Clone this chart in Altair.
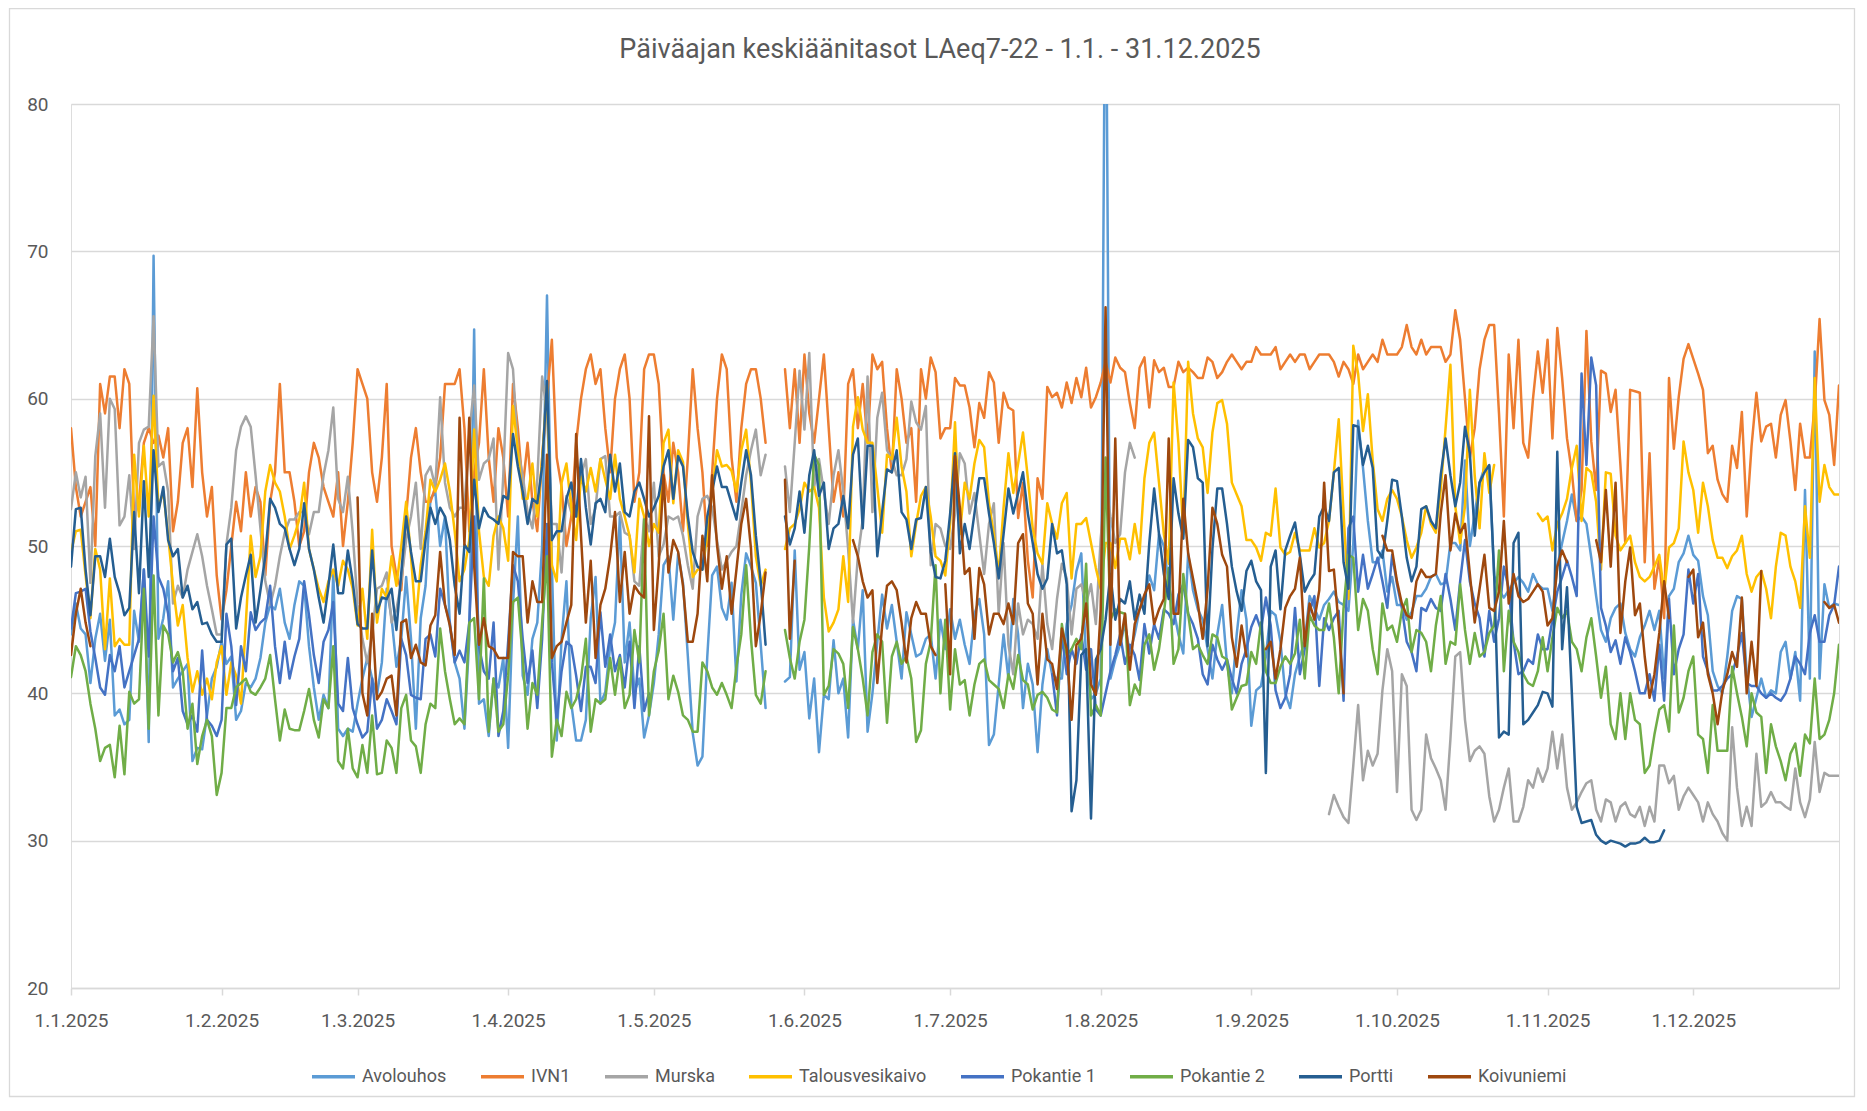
import datetime as dt
import altair as alt
import pandas as pd

N = None
TITLE = "Päiväajan keskiäänitasot LAeq7-22 - 1.1. - 31.12.2025"
SERIES = ["Avolouhos", "IVN1", "Murska", "Talousvesikaivo", "Pokantie 1", "Pokantie 2", "Portti", "Koivuniemi"]
COLORS = ["#5B9BD5", "#ED7D31", "#A5A5A5", "#FFC000", "#4472C4", "#70AD47", "#255E91", "#9E480E"]
Y_TICKS = [20, 30, 40, 50, 60, 70, 80]
MONTHS = list(range(1, 13))

AVOLOUHOS = (
    [44,46.1,44.4,44,40.7,43.7,45.4,42.2,45,38.5,38.9,37.9,38.2,45.6,43.5,48.4,36.7,69.7,43.7,45.1,47.6,40.4,41,41.5,42,35.4,36.3,36.2,38.5,41,41.8]
    + [43.5,42,42.5,38.2,38.8,40.7,40.4,41,42.4,44.8,46,45.7,47.1,44.8,43.7,46,47.6,47.3,43.2,40.4,38.2,39.9,39,48.2,37.6,37.1,37.6,37.4]
    + [39.3,41,42.4,41,39.9,42.1,47.1,45.1,41.8,43.7,47.9,43.7,37.6,45.1,47.3,53.2,53.7,50,52,44.6,42.1,41,37.6,43.7,64.7,39.3,39.6,37.1,41,40.4,42.4]
    + [36.3,46,52,41.2,39.9,43.7,44.8,50,67,48.7,36.8,43.7,47.6,39.3,36.8,36.8,38.2,45.1,47.9,39.3,40.1,43.2,44.8,52,42.1,44.8,40.1,41,37,38.5]
    + [40.7,44,48.7,49.3,45,49.5,47.5,42.5,37.3,35.1,35.7,42.5,48,48.6,45.8,45,47.5,40.8,46.7,49.5,48.6,47.5,43.3,39,N,N,N,40.8,41.1,49.7,41.6]
    + [42.8,38.3,41,36,39.9,39.6,43.6,40,41,37,45,43,47,37.4,40,43.5,46.7,44.4,46,43.5,41,45.5,44,42.5,42.7,43.7,44,41,45,43]
    + [45.7,43.7,45,43.3,42,45.4,46.4,44,36.5,37.2,40.6,44,41,46.4,44,39,42,40.6,36,40.6,43,41.3,41,41,44.7,46,48.3,49.5,42.3,39.6,40]
    + [41,95,41,42.3,43.3,44.7,42.7,44,45.7,46.4,48,47,50.8,50,47.4,45.7,44,42.7,49.5,47,45.7,45,43,41,44,46,42,40,44,47,45]
    + [37.8,40.2,40.5,42.5,45.6,45.3,43.5,40,39,41.3,42.5,43.5,46.6,45.8,45,46,46.4,46.9,46.2,46,45.6,50.2,58.5,55.3,51.7,48.9,48.9,49.7,46.9,47.9]
    + [46,46,45,45.5,46.6,46.6,47.1,47.9,48.1,47.4,47.5,50.2,50.2,49.7,55.8,50,52.2,54.3,55.3,55.4,48,47,46.5,47,47.5,47.9,47.5,46.9,48.1,47.4,47.1]
    + [47.1,45.6,48.6,50.2,51.7,53.5,51.7,52,51.5,49.2,46.6,44.3,43.5,45.1,45.8,46.1,44.1,43,42.5,43.8,44.6,45.6,44.3,45.6,41,46.6,47.1,48.9,49.5,50.7]
    + [49.4,49,46.6,45.3,41.5,40.5,40,42.5,45.6,46.6,46.4,41.3,38.4,39.7,41,39.7,40.2,40,42.8,43.5,41,42.8,39.5,53.8,41,63.2,41,47.4,45.8,46.1,46]
)

IVN1 = (
    [58,54,52,53,54,50,61,59,61.5,61.5,58,62,61,52,53,57,58,57,57.5,56,58,51,53,57,58,54,60.7,55,52,54,48]
    + [45,47,50,53,51,55,52,54,53,48,53,55,61,55,55,53,50,51,55,57,56,54,53,52,55,50,53,57]
    + [62,61,60,55,53,56,61,50,48,47,52,56,58,55,53,53,54,56,61,61,61,62,58,51,55,57,62,56,53,58,56]
    + [52,61,58,54,57,53,51,56,60,64,56,54,50,52,57,60,62,63,61,62,58,55,60,62,63,60,53,55,62,63]
    + [63,61,55,53,57,55,51,56,62,58,55,50,55,60,63,62,56,53,58,61,62,62,60,57,N,N,N,62,58,62,57]
    + [63,59,57,60,63,58,53,55,52,61,62,58,61,57,63,62,62.5,58,55,62,60,57,58,53,62,60,62.8,61.8,57.3,58]
    + [58,61.4,60.9,60.9,59.4,56.7,59.7,58.7,61.8,61.1,57,60.4,59.4,59.2,51.9,54.3,49,46.5,54.6,53.2,60.8,60.1,60.4,59.4,61.1,59.7,61.4,60.1,62.1,59.4,60.1]
    + [61.1,62.5,61.1,62.8,62.1,61.8,59.7,58,62.1,62.8,59.4,62.6,61.8,62.1,60.8,60.8,62.5,61.8,62.1,61.8,61.4,61.4,62.8,62.5,61.4,61.8,62.5,63,62.5,62,62.5]
    + [62.5,63.5,63,63,63,63.5,62,62.5,63,62.5,63,63,62,62.5,63,63,63,62.5,61.5,62.5,62,61,63,62,62.5,63,62.5,64,63,63]
    + [63,63.5,65,63.5,63,64,63,63.5,63.5,63.5,62.5,63,66,64,60,56,58,62,64,65,65,59,52,63,58,64,57,56,60,63.2,60.4]
    + [64,57.3,64.8,61.4,57.3,55,51.7,53.8,64.6,57.1,53.8,61.9,61.7,59.1,60.6,55.5,50.2,60.6,60.5,60.4,48.9,56.3,47.1,49.2,45.1,61.4,56.6,60.1,62.7,63.7]
    + [62.7,61.7,60.6,56.3,56.8,54.5,53.5,53,56.8,55.3,59.1,52,56.8,60.4,57.1,58.1,58.3,56,58.9,59.9,57.1,53.8,58.3,56,56,59.6,65.4,59.9,58.9,55.5,60.9]
)

MURSKA = (
    [52.5,55,53.3,54.7,47.5,56.1,59,52.6,60,59.3,51.4,52,54.8,49.8,57,57.9,58.1,65.6,55.4,55.7,53.7,46.1,47.3,46.5,48.4,49.6,50.8,49.3,47.3,45.7,44]
    + [44,50.1,52.6,56.5,58.1,58.8,58.1,54.8,51.2,47.6,46,47.3,49.3,50.9,51.8,51.8,52.3,52.3,50.8,52.3,52.3,54.8,56.5,59.4,53.2,52.3,54.7,50.9]
    + [46,43.7,42.1,44,47.1,47.3,48.2,44.8,45.7,47.6,50.4,52,54.3,49.8,54.8,55.4,54,60.1,54.3,52.6,52,52.6,52.6,57.6,60.9,54.5,55.6,55.9,57.3,48.4,54.8]
    + [63.1,62,56.5,54.8,52.3,51.2,54.5,61.5,59,51.5,51.5,48.2,53.4,52.3,52,54.8,55.9,51.5,52.6,55.9,56.1,52,52,52.3,50.9,50.7,47.6,47.3,52,51]
    + [54.3,49.3,50.1,52,51.8,52,50.7,48.7,47.1,52,53.2,53.4,52.6,50.4,48.4,49,49.6,50,52.3,54.8,56.5,57.9,54.8,56.2,N,N,N,55.4,52.3,57,61.9]
    + [57.9,63.1,54,55.9,53.7,51.5,54.8,56.5,53.7,49.8,44.8,49.3,51.8,61.5,52.3,58.7,60.4,56.5,55.9,54.8,54.8,55.9,59.8,58.4,57.9,59.5,48.7,51.5,51.2,50]
    + [49.8,52.2,56.3,55.6,52.2,53.6,50.8,48.1,51.5,52.9,45.4,50.2,43.3,41.3,46.1,44,45,44.7,43.7,48.8,44.7,43,46.4,48.8,47.8,44,47.1,47.4,46.1,47.4,44.7]
    + [50.5,54.3,52,50.2,50.8,55,57,56] + [N] * 23
    + [N] * 16 + [31.8,33.1,32.3,31.6,31.2,35.1,39.2,34.1,36.1,35.1,35.9,40.2,43,41.5]
    + [33.3,41.3,40.5,32.1,31.4,32.1,37.2,35.6,34.9,34.1,32.1,36.9,42.5,42.8,38.2,35.4,36.1,36.4,35.9,33,31.3,32.1,33.6,34.9,31.3,31.3,32.3,34.1,33.6,34.9,34]
    + [34.9,37.4,34.9,37.2,33.6,32.1,32.6,33.3,33.9,34.1,32.1,31.3,32.8,32.6,31.3,32.3,32.6,31.8,31.6,32.3,31,32.3,31.3,35.1,35.1,33.9,34.4,32.1,33,33.6]
    + [33.1,32.6,31.3,32.6,31.8,31.3,30.5,30,37.7,33.6,31,32.3,31,35.9,32.3,32.6,33.3,32.6,32.6,32.3,32.1,34.9,32.6,31.6,32.8,36.7,33.3,34.6,34.4,34.4,34.4]
)

TALOUSVESIKAIVO = (
    [49.6,51,51.1,48,45.1,49.8,48.4,43,47.8,43.2,43.7,43.3,43.3,56.2,52,56.8,52,60.2,52.6,53.7,50.7,47.3,44.6,46,42.4,40.1,41.5,39.9,41,39.6,42.1]
    + [43.2,39.9,42.1,41.2,39.3,44.8,50.7,47.9,49.3,53.7,55.5,54.3,53.7,52,49.8,50.7,51.8,54.3,49.8,48.4,47.1,46.2,47.6,48.4,47.3,49,48.4,47.1]
    + [44.6,47.1,43.7,51.1,44.8,47.1,46.5,49.3,47.3,50,53,49.3,44.8,48.7,51,54.5,53.7,54.5,55.6,53.7,51,47.6,48.4,50.4,57.9,51,47.9,47.3,50.7,52,51.2]
    + [49,59.5,56.5,53.2,53.2,55.6,52,55.9,60.9,48.7,47.6,54.3,55.6,52.6,50.4,54.7,53.7,55.3,53.7,55.9,54.5,53.2,56.2,53.2,52,50.7,48.2,53.2,52,50]
    + [51.5,50.9,57,57.9,52.9,56.5,55.7,51.5,47.9,48.4,48.4,50.7,53.7,56.5,55.4,55.5,55.1,53.7,56.5,57.9,54.3,49.3,47.3,48.4,N,N,N,49.8,51.2,51.5,52.5]
    + [54.3,53.7,54,52.6,46.5,44.2,44.8,45.7,49.3,46.2,58.1,60.1,57.9,57,57,54,50.9,56.2,55.9,58.7,55.4,53.7,49.3,51.5,53.4,54,52,49.3,49,48]
    + [51.5,58.4,50.8,54.3,53.2,55.6,57.2,56.7,52.9,50.8,48.1,52.6,56.3,53.6,55.6,57.7,54.6,51.2,49.5,48.8,52.9,51.5,50.5,52.9,53.6,47.8,51.5,51.5,51.9,50.2,48.5]
    + [47.1,50.2,50.2,48.5,50.5,50.5,49.1,51.5,49.5,54.6,57,57.7,54.3,50.8,48.8,61.1,57,50.8,62.5,59,57.3,56.7,53.6,57.7,59.7,59.9,58.3,54.3,53.5,52.7,50.4]
    + [50.4,49.9,49,50.9,50.7,53.9,49.9,49.4,49.6,50.9,49.7,49.7,49.7,51.2,49.9,50.2,51.7,55,58.6,52.2,46.4,63.6,61.7,57.8,60.3,55.8,52.5,51.7,53.2,53.8]
    + [53.2,52,50.4,49.2,49.9,50.9,52.7,51.5,50.9,53.8,58,62.3,52.7,50.2,52.7,60.6,54.8,51.2,56.3,53.6,55.5,N,N,N,N,N,N,N,N,52.2,51.7]
    + [52,49.7,51.5,52.2,53.2,55.3,56.8,51.7,55.3,55,53,48.4,55,54.9,50.7,49.7,50.2,50.7,48.9,47.9,47.6,47.9,48.6,49.4,46.9,49.9,50.2,51.2,57.1,55]
    + [53.8,50.9,54.3,52.7,50.4,49.2,49.2,48.5,49.3,49.7,50.7,48.1,46.9,47.9,48.3,47.1,45.1,48.6,50.9,50.7,48.6,47.6,45.8,52.7,49.2,61.4,53,55.5,54,53.5,53.5]
)

POKANTIE_1 = (
    [44.4,46.8,46.9,47.1,44.2,42.4,40.4,39.9,42.6,41.5,43.2,40.4,41.5,42.6,43.7,48.4,42.5,52,47.9,47.1,45.4,41.5,42.4,38.8,37.9,38.5,37.4,42.9,38.2,37.8,37.1]
    + [38.2,45.4,43.2,39.2,43.2,41.5,45.5,44.3,44.8,45.1,47.3,43.2,40.7,43.5,41,42.5,43.7,47.6,45.3,42.6,40.7,43.5,44.3,46.2,39.3,38.8,42.4,39]
    + [37.9,37,37.4,41,37.6,38.2,39.6,38.8,37.9,43.7,42.6,39.9,39.7,39.6,43.7,44,42.5,47.1,46,44.8,42.1,42.9,42.1,44.8,52,43.2,41.5,41,44.8,37.1,38.8]
    + [43.5,48.7,47.6,43.7,40.7,42.9,39,43.7,51.5,42.1,38.2,41.5,43.5,43.2,41.2,38.8,41.8,41.8,40.7,45.5,41.8,44,41.5,42.6,40.4,43.5,39,43.2,38.8,40]
    + [N] * 31
    + [N] * 30
    + [N] * 21 + [41.3,38.5,44,41.3,43,42,44,41.6,43,38.9]
    + [38.5,40,41.5,42.6,44,42,43.3,42.6,40.9,44.7,42.7,44.7,43.7,45.7,45.4,44.7,46.7,47.4,45.4,44.7,43.7,41.3,40.6,43.3,42.3,41.6,42.3,41,40,42,43]
    + [44.5,45.3,44.3,46.5,44.6,40.2,39,39.7,41.3,45.8,41.3,43,45.6,46.6,40.5,45.1,44.3,45.1,45.6,39.5,51.2,52,46.9,49.4,47.1,48.1,49.2,47.6,45.8,49.4]
    + [47.4,45.8,43.5,42.8,41.5,45.8,45.6,46.4,45.8,45.6,48.1,46.4,44.3,47.6,50.4,47.6,46.1,45.1,42.5,45.6,43.5,45.1,48.6,47.1,43.5,41.3,41.5,42.3,42,44,43]
    + [43,45,46.9,47.9,49,47.9,46.6,61.7,55.5,62.8,60.9,45.8,44.6,42.8,43.6,42,43.8,42.8,41.5,40,40,41.3,39.5,43.3,39.5,46.4,41.3,43,44,48.4]
    + [46.1,48.1,42.5,41.5,40.2,40.2,40.5,41,41.3,42.5,44.1,40.7,40.5,40.5,40,39.7,40,39.7,39.5,40,41,42.5,42,41.3,44.1,45.3,43.5,43.5,45.3,46,48.6]
)

POKANTIE_2 = (
    [41.1,43.2,42.6,41.5,39.3,37.6,35.4,36.3,36.5,34.3,37.8,34.5,40.1,39.3,39.6,47.1,37.6,48,38.5,44.6,44,42.1,42.8,41.5,37.6,39.3,35.2,37.1,38.2,37.1,33.1]
    + [34.6,39,39,40.4,40.7,41,40.1,39.9,40.4,41,42.6,39.6,36.8,38.9,37.6,37.5,37.5,38.8,40.3,38.2,37,39.6,39,43.2,35.4,34.9,37.6,34.9]
    + [34.3,36.5,34.6,38.5,34.5,34.6,36.8,36.3,34.6,39,39.9,36.8,36.4,34.6,37.9,39.3,39,44.4,41.5,39.6,37.9,38.3,37.9,44.8,45.1,39.6,47.8,37.4,41,37.4,37.9]
    + [41.2,46.2,46.5,42.4,37.6,40.7,39.9,44.8,49.3,35.7,38.2,37.1,40.1,39,39.6,41,43.7,37.4,39.6,39.3,39.6,42.4,39.9,42.4,39,39.9,44.3,42.1,51.8,38.5]
    + [41.5,42.9,45.4,39.6,41.2,40.1,38.5,38.2,37.4,37.4,42.1,41.5,40.4,39.9,40.7,39.9,39,41.8,44,48.7,43.7,39.9,39.3,41.5,N,N,N,44.3,42.4,41,43.5]
    + [45,50,56.2,55.5,39.9,40.5,43,42.7,42,39,44.5,43,41,38.5,42.8,44,43.5,38,42.5,43.5,42,42.5,41,36.7,37.5,42,43.5,48.7,40,45]
    + [38.9,43,40.6,40.9,38.5,40.6,42,42.3,40.9,40.6,40.3,39,41.3,40.3,42.6,40.9,40.6,38.9,39.9,40.1,39.7,38.9,38.7,44.7,42.6,43,43.7,43,48.8,38.5,39.2]
    + [38.5,56,45,45.7,45.5,45.4,39.2,40.6,39.9,43.3,44,41.6,43,45.4,48.5,42,43,48.1,45.4,43,43.3,42.6,42,44,43.8,42.5,42.3,38.9,39.7,40.5,40.6]
    + [42.8,42,44.8,41.5,40.7,40.7,41.8,42.5,42,42.7,45,41,45.3,44.6,44.3,44.3,46.1,43.8,40,45.8,49.4,49.2,44.3,46.4,45.6,43,41.3,46.1,44.3,44.6]
    + [43.5,45.6,46.4,42.8,44.3,44.1,43.5,41.5,44.6,46.6,42,43.5,43.3,47.4,44.3,42,44.1,42.5,42.8,44.1,44.6,49.7,41.5,45.6,43.5,42.8,41.3,40.7,40.5,41.5,43.8]
    + [41.5,43.8,45.8,45.1,45.6,43.5,43,41.5,43.8,45.1,42.5,39.7,41.8,37.9,36.9,40,36.9,40,38.2,37.9,34.6,35.1,37.2,38.9,39.2,37.4,44.6,38.7,39.7,41.5]
    + [42.5,37.2,36.9,34.6,39.2,36.1,36.1,36.1,41.8,40,38.4,36.4,40,38.7,38.4,34.6,37.9,36.4,35.4,34.1,35.9,36.6,34.4,37.2,36.6,41,36.9,37.2,38.2,40,43.3]
)

PORTTI = (
    [48.6,52.5,52.6,48.4,45.3,49.3,49.3,47.9,50.5,47.9,46.8,45.3,45.8,52.3,46.8,54.4,47.9,56.5,52.3,54,50.4,49.3,49.8,46.5,47.3,45.7,46.2,44.7,44.8,44,43.5]
    + [43.5,50.1,50.5,44.4,46.5,48,49.4,44.8,47,49.3,53.2,52.6,51.5,51.2,49.8,48.7,49.8,52.9,49.8,48.4,46.5,44.8,47.3,50.1,46.8,46.8,49.7,47.6]
    + [44.7,44.4,44.4,49.7,45.5,46.5,46.4,47.1,44.3,48.2,52,49.6,47.6,47.6,50.4,52.6,51.5,52.6,52,50.4,47.3,45.4,50.1,49.6,54.5,51.2,52.6,52,51.8,51.5,53.4]
    + [53.2,57.6,55.4,53.7,51.5,53.2,52.9,55.4,61.2,50.4,51,51,53.2,54.3,52,55.9,52.6,50.1,52.9,53.2,52.3,56.2,53.7,55.6,52.3,52,53.7,54.3,53.2,52]
    + [52.6,53.4,55.4,56.5,53.2,56.1,55.4,52,49.6,48.6,48.4,52,53.7,55.4,54,54,52.9,51.8,54.3,56.5,54.8,50.7,47.6,43.3,N,N,N,52,50.1,51.2,53.7]
    + [50.9,54.8,56.5,53.4,54.3,49.8,51.2,51.5,53.4,51.2,56.2,57.3,51.2,56.8,56.8,49.3,52.3,55.2,55,56.5,52.3,51.8,49.8,51.8,51.9,54,49.6,47.9,47.8,49]
    + [52.2,56.3,49.5,51.5,49.8,52.2,54.6,54.6,52.2,50.2,47.8,50.8,53.9,52.2,53.6,55,52.2,50.2,48.1,47.1,47.8,51.5,49.5,49.7,47.4,32,34.1,42.6,43,31.5,42.3]
    + [43,45,48.1,45,46.4,46.1,47.6,45,46.7,45.4,50.2,53.9,50.8,48.1,46.4,54.6,52.2,50.5,57.2,56.7,54.6,54.3,43.2,49.8,53.9,53.9,51.5,48.6,46.9,45.6,48.3]
    + [49,47.6,47,34.6,48.6,49.7,45.7,49.7,50.7,51.6,49.4,46.9,47.6,48.1,52,52.7,51.7,55,55.3,48.9,47.1,58.2,58.1,55.5,56.8,55.3,49.7,49.2,51.7,54.5]
    + [54.4,52,49.2,47.6,48.6,52.5,52.7,51.7,51.2,54.8,57.3,54.8,52.7,54.3,58.1,56.3,50.7,54.3,55,55.5,48.1,37,37.4,37.2,50.2,50.9,37.9,38.2,38.7,39.2,40.1]
    + [40,39.1,56.4,43,47.2,40,32.3,31.2,31.3,31.4,30.4,30,29.8,30,29.9,29.8,29.6,29.8,29.8,29.9,30.2,29.9,29.9,30,30.7,N,N,N,N,N]
    + [N] * 31
)

KOIVUNIEMI = (
    [42.6,45.4,47.1,44.8,43.2] + [N] * 26
    + [N] * 28
    + [53.3,40,38.5,45.4,39.6,40.1,41,41.2,38.5,44.8,45,42.4,43.3,42.1,41.9,44.6,45.3,49.6,46,44.6,42.6,58.7,50.1,58.7,48.7,43.3,45.1,43.2,43,42.4,42.4]
    + [42.4,49.6,49.3,49.3,44.8,47.6,46.2,46.2,56.2,42.4,43.2,43.5,44.8,46,57.6,50.7,44.8,49,42.4,46,47.1,49.3,52.3,46.2,49.6,45.4,47.3,46.8,46.5,58.8]
    + [44.3,48.7,54.8,48.2,50.4,49.6,47.3,43.5,43.5,45.4,50.7,47.6,54.8,50.1,47.1,49.3,45.4,48.4,51.5,53.2,49.8,43.2,45.4,48.2,N,N,N,54.5,43.7,49,N]
    + [N] * 10 + [50.4,49.3,47.6,46.5,47,40.7,44.6,47.3,47.6,47,44.8,42.1,45.1,46.2,45.4,45.4,43.2,42.6,N,47.4]
    + [41.3,56.1,52.6,48.1,48.5,43.7,48.5,47.4,44,45.4,45.4,44.7,46.1,44.7,50.2,50.8,46.1,45.4,40.6,45.4,42.3,42,40.3,44.4,43,38.2,43.3,43.7,46.1,40.6,39.9]
    + [45.7,66.2,43.3,57.3,43.3,45.4,41.6,44.7,45.7,46.7,47.4,44.7,45.7,46.4,57.3,45.4,45.4,53.2,49.5,47.8,46.1,43.7,47.1,52.6,51.5,49.4,48.6,43.8,41.8,44.6,42.5]
    + [N,N,N,43,43.5,41,43,45.8,46.6,47.1,49.2,43.2,46.1,45,47,54.3,48.3,48.4,44.6,40,N,N,N,N,N,N,N,50.7,49.7,49.7]
    + [47.6,46.1,45.3,45.1,47.6,48.4,47.9,47.9,48.1,52.2,54.8,49.7,52.2,50.9,51.5,48.1,44.8,47.1,49.4,45.8,45.6,46.9,51.7,46.1,48.1,46.6,46.2,46.4,46.9,47.4,46.9]
    + [44.6,45.1,48.6,49.7,48.9,N,N,N,N,N,50.4,48.9,53.8,48.6,54.3,44.1,47.6,49.9,45.3,46.1,42.5,39.7,41.3,44.1,47.6,45.1,N,N,N,47.9]
    + [48.4,43.8,44.8,41.3,40,37.9,40.2,41.3,42.8,41.8,46.5,40,43.5,40.5,48.3] + [N] * 12 + [46.2,45.8,46,44.8]
)

VALUES = [AVOLOUHOS, IVN1, MURSKA, TALOUSVESIKAIVO, POKANTIE_1, POKANTIE_2, PORTTI, KOIVUNIEMI]

DAYS = [dt.date(2025, 1, 1) + dt.timedelta(days=i) for i in range(365)]
bad = {name: len(vals) for name, vals in zip(SERIES, VALUES) if len(vals) != 365}
if bad:
    raise SystemExit(f"wrong lengths: {bad}")

rows = []
for name, vals in zip(SERIES, VALUES):
    seg = 0
    prev_none = True
    for day, v in zip(DAYS, vals):
        if v is None:
            prev_none = True
            continue
        if prev_none:
            seg += 1
            prev_none = False
        rows.append({"date": day.isoformat(), "value": v, "series": name, "seg": f"{name}-{seg}"})
df = pd.DataFrame(rows)

FONT = "Roboto"
TEXT = "#595959"
GRID = "#d9d9d9"
W, H = 1768, 884
PAD = {"left": 63, "top": 96, "right": 17, "bottom": 110}

month_ticks = [alt.DateTime(year=2025, month=m, date=1, utc=True) for m in MONTHS]

lines = alt.Chart(df).mark_line(strokeWidth=2.5, clip=True, strokeJoin="round", strokeCap="round").encode(
    x=alt.X(
        "date:T",
        scale=alt.Scale(
            type="utc",
            domain=[alt.DateTime(year=2025, month=1, date=1, utc=True), alt.DateTime(year=2025, month=12, date=31, utc=True)],
        ),
        axis=alt.Axis(
            values=month_ticks, labelExpr="utcFormat(datum.value, '%-d.%-m.%Y')", title=None, grid=False,
            labelFont=FONT, labelFontSize=19, labelColor=TEXT, labelFlush=False, labelOverlap=False,
            domainColor=GRID, domainWidth=1.5, tickColor=GRID, tickWidth=1.5, tickSize=7, labelPadding=16,
        ),
    ),
    y=alt.Y(
        "value:Q",
        scale=alt.Scale(domain=[20, 80], nice=False, zero=False),
        axis=alt.Axis(
            values=Y_TICKS, title=None, grid=True, gridColor=GRID, gridWidth=1.5, domain=False, ticks=False,
            labelFont=FONT, labelFontSize=19, labelColor=TEXT, labelPadding=23,
        ),
    ),
    color=alt.Color(
        "series:N",
        scale=alt.Scale(domain=SERIES, range=COLORS),
        sort=SERIES,
        legend=alt.Legend(
            title=None, orient="none", direction="horizontal", legendX=239, legendY=949,
            symbolType="stroke", symbolSize=1849, symbolStrokeWidth=3.5,
            labelFont=FONT, labelFontSize=18, labelColor=TEXT, labelOffset=5, columnPadding=27, padding=0,
        ),
    ),
    detail="seg:N",
)

border = alt.Chart(pd.DataFrame({"k": [0]})).mark_rect(fillOpacity=0, stroke=GRID, strokeWidth=1.3).encode(
    x=alt.value(-61.5), x2=alt.value(W + PAD["right"] - 1.5), y=alt.value(-PAD["top"] + 0.5), y2=alt.value(H + PAD["bottom"] - 1.5)
)

chart = alt.layer(border, lines).properties(
    width=W,
    height=H,
    autosize=alt.AutoSizeParams(type="none"),
    padding=PAD,
    title=alt.TitleParams(TITLE, font=FONT, fontSize=27, fontWeight="normal", color=TEXT, anchor="middle", offset=-56, dx=-15),
).configure_view(stroke=None).configure(background="white")

chart.save("out.html", embed_options={"renderer": "svg", "actions": False})
